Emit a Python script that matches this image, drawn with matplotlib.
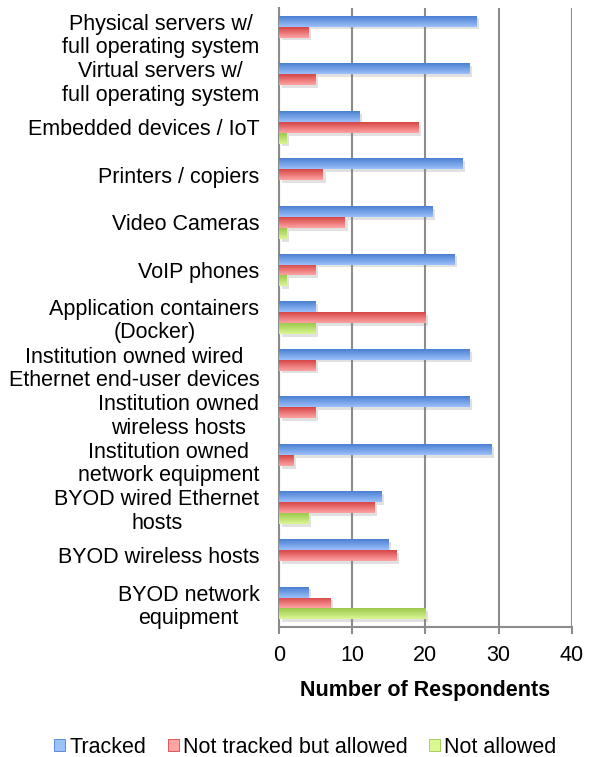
import numpy as np
import matplotlib.pyplot as plt
from matplotlib.patches import Patch
from matplotlib.colors import LinearSegmentedColormap
import matplotlib.patheffects as pe

categories = [
    "Physical servers w/\nfull operating system",
    "Virtual servers w/\nfull operating system",
    "Embedded devices / IoT",
    "Printers / copiers",
    "Video Cameras",
    "VoIP phones",
    "Application containers\n(Docker)",
    "Institution owned wired\nEthernet end-user devices",
    "Institution owned\nwireless hosts",
    "Institution owned\nnetwork equipment",
    "BYOD wired Ethernet\nhosts",
    "BYOD wireless hosts",
    "BYOD network\nequipment",
]
tracked = [27, 26, 11, 25, 21, 24, 5, 26, 26, 29, 14, 15, 4]
not_tracked_allowed = [4, 5, 19, 6, 9, 5, 20, 5, 5, 2, 13, 16, 7]
not_allowed = [0, 0, 1, 0, 1, 1, 5, 0, 0, 0, 4, 0, 20]

series = ["Tracked", "Not tracked but allowed", "Not allowed"]
tops = ["#9cc0fa", "#ffa3a3", "#dbf794"]
bottoms = ["#4a80d2", "#d64646", "#9cc84c"]

plt.rcParams["font.family"] = ["Liberation Sans", "DejaVu Sans"]
fs = 15.5

fig = plt.figure(figsize=(5.92, 7.57), dpi=100)
ax = fig.add_axes([0.471, 0.172, 0.495, 0.817])

y = np.arange(len(categories))
h = 0.23
grad = np.linspace(0, 1, 64).reshape(-1, 1)
for i, vals in enumerate([tracked, not_tracked_allowed, not_allowed]):
    cmap = LinearSegmentedColormap.from_list("g%d" % i, [tops[i], bottoms[i]])
    bars = ax.barh(y + (i - 1) * h, vals, height=h, color=bottoms[i], linewidth=0, zorder=3,
                   path_effects=[pe.SimplePatchShadow(offset=(2, -2), alpha=0.25, shadow_rgbFace="#888888"), pe.Normal()])
    for b in bars:
        if b.get_width() <= 0:
            continue
        x0, y0 = b.get_x(), b.get_y()
        im = ax.imshow(grad, cmap=cmap, aspect="auto", zorder=4,
                       extent=(x0, x0 + b.get_width(), y0, y0 + b.get_height()))
        im.set_clip_path(b)

ax.set_ylim(len(categories) - 0.5, -0.5)
ax.set_xlim(0, 40)
ax.set_xticks([0, 10, 20, 30, 40])
ax.set_yticks(y)
ax.set_yticklabels(categories, fontsize=fs, linespacing=1.15, multialignment="center")
ax.tick_params(axis="y", length=0, pad=14)
ax.tick_params(axis="x", labelsize=fs, length=5, width=1.5, color="#8c8c8c", direction="out", pad=8)
ax.xaxis.grid(True, color="#8c8c8c", linewidth=1.5, zorder=0)
for s in ["top", "right"]:
    ax.spines[s].set_visible(False)
for s in ["left", "bottom"]:
    ax.spines[s].set_color("#8c8c8c")
    ax.spines[s].set_linewidth(1.5)
ax.set_xlabel("Number of Respondents", fontsize=fs, fontweight="bold", labelpad=10)

handles = [Patch(facecolor=c, edgecolor=ec, linewidth=0.6) for c, ec in zip(tops, bottoms)]
fig.legend(handles, series, loc="center", bbox_to_anchor=(0.516, 0.013), ncol=3, frameon=False,
           fontsize=fs, handlelength=0.5, handleheight=0.5, handletextpad=0.2, columnspacing=1.0)

fig.savefig("out.png", dpi=100)
